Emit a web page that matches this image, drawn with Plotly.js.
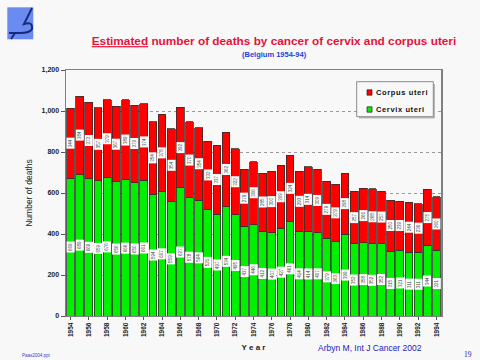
<!DOCTYPE html>
<html>
<head>
<meta charset="utf-8">
<script src="https://cdn.plot.ly/plotly-3.0.1.min.js"></script>
<style>html,body{margin:0;padding:0;background:#f8f8f8;}#chart{width:480px;height:360px;}</style>
</head>
<body>
<div id="chart"></div>
<script>
// Data
const years = [1954,1955,1956,1957,1958,1959,1960,1961,1962,1963,1964,1965,1966,1967,1968,1969,1970,1971,1972,1973,1974,1975,1976,1977,1978,1979,1980,1981,1982,1983,1984,1985,1986,1987,1988,1989,1990,1991,1992,1993,1994];
const cervix = [669,689,669,659,676,656,666,650,661,594,607,559,627,578,564,521,497,534,495,437,446,412,407,427,461,414,414,407,379,363,399,352,358,352,352,315,321,311,311,344,321];
const corpus = [344,384,373,357,379,367,389,379,374,354,378,354,392,370,354,332,337,362,322,279,306,285,300,309,324,293,314,309,279,279,298,257,266,268,257,250,239,244,236,275,260];
const tickYears = [1954,1956,1958,1960,1962,1964,1966,1968,1970,1972,1974,1976,1978,1980,1982,1984,1986,1988,1990,1992,1994];
const seriesNames = ['Cervix uteri','Corpus uteri'];
const seriesColors = ['#00f000','#ff0000'];

const FONT = 'Liberation Sans, Arial, sans-serif';
const ML = 66, MR = 39, MT = 70, MB = 44, W = 480, H = 360;
const pw = W - ML - MR, ph = H - MT - MB;
const px = x => (x - ML) / pw;
const py = y => (H - MB - y) / ph;

const traces = [
  {type:'bar', name:seriesNames[0], x:years, y:cervix, showlegend:false,
   marker:{color:seriesColors[0], line:{color:'#303030', width:0.8}}, hoverinfo:'skip'},
  {type:'bar', name:seriesNames[1], x:years, y:corpus, showlegend:false,
   marker:{color:seriesColors[1], line:{color:'#303030', width:0.8}}, hoverinfo:'skip'}
];

const annotations = [];
years.forEach((yr, i) => {
  annotations.push({x:yr, y:cervix[i]/2, xref:'x', yref:'y', text:String(cervix[i]), showarrow:false,
    textangle:-90, font:{family:FONT, size:4.5, color:'#444'}, bgcolor:'#ffffff', borderpad:1});
  annotations.push({x:yr, y:cervix[i] + corpus[i]/2, xref:'x', yref:'y', text:String(corpus[i]), showarrow:false,
    textangle:-90, font:{family:FONT, size:4.5, color:'#444'}, bgcolor:'#ffffff', borderpad:1});
});
annotations.push({xref:'paper', yref:'paper', x:px(274), y:py(55), text:'<b>(Belgium 1954-94)</b>', showarrow:false,
  font:{family:FONT, size:7.5, color:'#1f3fd8'}, xanchor:'center', yanchor:'middle'});
annotations.push({xref:'paper', yref:'paper', x:px(316), y:py(348), text:'Arbyn M, Int J Cancer 2002', showarrow:false,
  font:{family:FONT, size:8.5, color:'#2222bb'}, xanchor:'left', yanchor:'middle'});
annotations.push({xref:'paper', yref:'paper', x:px(20), y:py(355), text:'Paas2004.ppt', showarrow:false,
  font:{family:FONT, size:4.5, color:'#3344cc'}, xanchor:'left', yanchor:'middle'});
annotations.push({xref:'paper', yref:'paper', x:px(468), y:py(354), text:'19', showarrow:false,
  font:{family:'Liberation Serif, Times New Roman, serif', size:7.5, color:'#2222aa'}, xanchor:'center', yanchor:'middle'});

// legend (drawn as box + keys)
const legendRows = [{name:seriesNames[1], color:seriesColors[1], y:92.5}, {name:seriesNames[0], color:seriesColors[0], y:109.5}];
legendRows.forEach(r => {
  annotations.push({xref:'paper', yref:'paper', x:px(373.5), y:py(r.y), text:'<b>' + r.name.split('').join('\u200A') + '</b>', showarrow:false,
    font:{family:FONT, size:7.5, color:'#111'}, xanchor:'left', yanchor:'middle'});
});

const shapes = [
  // logo
  {type:'rect', xref:'paper', yref:'paper', x0:px(7.3), x1:px(33.3), y0:py(39.3), y1:py(7.3), fillcolor:'#6a8cf0', line:{width:0}, layer:'above'},
  {type:'path', xref:'paper', yref:'paper',
   path:`M ${px(32)} ${py(8)} L ${px(24)} ${py(24)} Q ${px(33)} ${py(21)} ${px(32)} ${py(29)} Q ${px(30)} ${py(33)} ${px(20)} ${py(33)} L ${px(9)} ${py(33)} M ${px(15)} ${py(33)} L ${px(11)} ${py(39)}`,
   line:{color:'#1a2a7a', width:2}, layer:'above'},
  // legend shadow and box
  {type:'rect', xref:'paper', yref:'paper', x0:px(359), x1:px(435), y0:py(118.5), y1:py(84), fillcolor:'#b8b8b8', line:{width:0}, layer:'above'},
  {type:'rect', xref:'paper', yref:'paper', x0:px(356.7), x1:px(433.3), y0:py(116.7), y1:py(81.7), fillcolor:'#f8f8f8', line:{color:'#8a8a8a', width:1}, layer:'above'}
];
legendRows.forEach(r => {
  shapes.push({type:'rect', xref:'paper', yref:'paper', x0:px(367), x1:px(372), y0:py(r.y + 2.7), y1:py(r.y - 2.7),
    fillcolor:r.color, line:{color:'#202020', width:0.7}, layer:'above'});
});

const layout = {
  width:W, height:H,
  margin:{l:ML, r:MR, t:MT, b:MB, pad:0},
  paper_bgcolor:'#f8f8f8', plot_bgcolor:'#f8f8f8',
  barmode:'stack', bargap:0.15,
  showlegend:false,
  title:{text:'<b><u>Estimated</u> number of deaths by cancer of cervix and corpus uteri</b>',
    x:274/W, xanchor:'center', y:1-41/H, yanchor:'middle', xref:'container',
    font:{family:FONT, size:11.8, color:'#e8103a'}},
  xaxis:{range:[1953.5,1994.5], tickmode:'array', tickvals:tickYears, ticktext:tickYears.map(String),
    tickangle:-90, tickfont:{family:FONT, size:6.5, color:'#222', weight:'bold'},
    ticks:'outside', ticklen:3, tickcolor:'#555', showgrid:false, zeroline:false,
    showline:true, linecolor:'#808080', linewidth:1, mirror:true,
    title:{text:'<b>Y e a r</b>', font:{family:FONT, size:8, color:'#222'}, standoff:8}},
  yaxis:{range:[0,1200], dtick:200, tickformat:',d', tickfont:{family:FONT, size:7, color:'#222', weight:'bold'},
    ticks:'outside', ticklen:4, tickcolor:'#555', showgrid:true, gridcolor:'#9a9a9a', griddash:'dot', gridwidth:1,
    zeroline:false, showline:true, linecolor:'#808080', linewidth:1.5, mirror:true,
    title:{text:'Number of deaths', font:{family:FONT, size:8.5, color:'#222'}, standoff:7}},
  annotations:annotations,
  shapes:shapes
};

Plotly.newPlot('chart', traces, layout, {staticPlot:true, displayModeBar:false});
</script>
</body>
</html>
